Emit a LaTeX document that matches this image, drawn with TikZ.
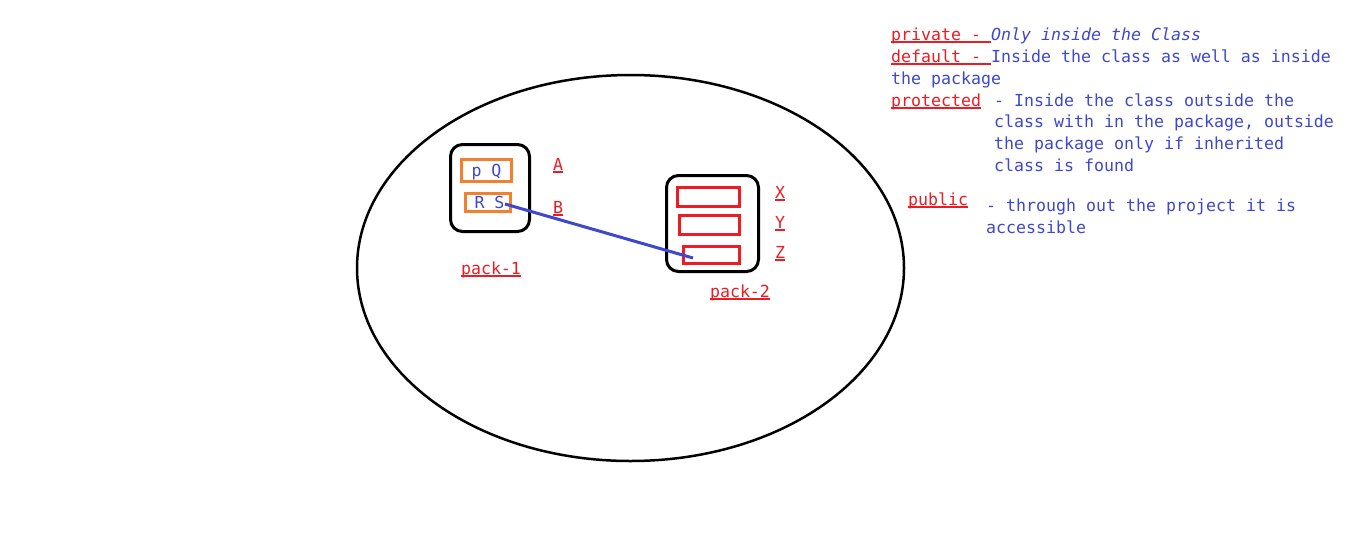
\documentclass[tikz,border=0pt]{standalone}
\usepackage{fontspec}
\setmonofont{DejaVu Sans Mono}
\usetikzlibrary{calc}
\definecolor{paintred}{RGB}{237,28,36}
\definecolor{paintblue}{RGB}{63,72,204}
\definecolor{paintorange}{RGB}{242,128,44}
\newcommand{\mono}{\ttfamily\fontsize{16.6}{22}\selectfont}
\newcommand{\ukey}[1]{\setbox0\hbox{#1}\rlap{#1}\rule[-2.6pt]{\wd0}{1.3pt}}

\begin{document}
\begin{tikzpicture}[x=1pt,y=-1pt,
	every node/.style={font=\mono},
	pack/.style={draw=black, line width=3pt, rounded corners=12pt},
	obox/.style={draw=paintorange, line width=3pt, text=paintblue, text height=12pt, text depth=0pt, inner sep=0pt},
	rbox/.style={draw=paintred, line width=3pt, inner sep=0pt},
	lbl/.style={text=paintred, anchor=base, inner sep=0pt},
	key/.style={text=paintred, anchor=base west, inner sep=0pt},
	desc/.style={text=paintblue, anchor=base west, inner sep=0pt}]
	\fill[white] (0,0) rectangle (1350,555);
	\useasboundingbox (0,0) rectangle (1350,555);

	\draw[line width=2.5pt] (630.5,268) ellipse [x radius=273.5, y radius=193];

	% pack-1
	\node[pack, minimum width=79pt, minimum height=87pt] (pack1) at (490,188) {};
	\node[obox, minimum width=50pt, minimum height=22pt] (pq) at (486.5,170.5) {p Q};
	\node[obox, minimum width=45pt, minimum height=18pt] (rs) at (488,202.5) {\hspace{3pt}R S};
	\node[lbl] (a) at (558,170) {\ukey{A}};
	\node[lbl] (b) at (558,213) {\ukey{B}};
	\node[lbl] (p1) at (491,274) {\ukey{pack-1}};

	% pack-2
	\node[pack, minimum width=92pt, minimum height=96pt] (pack2) at (712.5,223.5) {};
	\node[rbox, minimum width=62pt, minimum height=19pt] (x) at (708,196.5) {};
	\node[rbox, minimum width=60pt, minimum height=19pt] (y) at (709,225) {};
	\node[rbox, minimum width=56pt, minimum height=17pt] (z) at (711,255) {};
	\node[lbl] (xl) at (780,198) {\ukey{X}};
	\node[lbl] (yl) at (780,228) {\ukey{Y}};
	\node[lbl] (zl) at (780,258) {\ukey{Z}};
	\node[lbl] (p2) at (740,297) {\ukey{pack-2}};

	\draw[paintblue, line width=3pt] ([xshift=-7pt,yshift=-1.5pt]rs.east) -- ([xshift=11.5pt,yshift=-3pt]z.west);

	% access modifiers
	\node[key] (priv) at (891,40) {\ukey{private - }\textcolor{paintblue}{\itshape Only inside the Class}};
	\node[key] (def) at (891,62) {\ukey{default - }\textcolor{paintblue}{Inside the class as well as inside}};
	\node[desc] (def2) at (891,84) {the package};
	\node[key] (prot) at (891,106) {\ukey{protected}};
	\node[desc] (prot1) at (994,106) {- Inside the class outside the};
	\node[desc] (prot2) at (994,127) {class with in the package, outside};
	\node[desc] (prot3) at (994,149) {the package only if inherited};
	\node[desc] (prot4) at (994,171) {class is found};
	\node[key] (pub) at (908,205) {\ukey{public}};
	\node[desc] (pub1) at (986,211) {- through out the project it is};
	\node[desc] (pub2) at (986,233) {accessible};
\end{tikzpicture}
\end{document}
